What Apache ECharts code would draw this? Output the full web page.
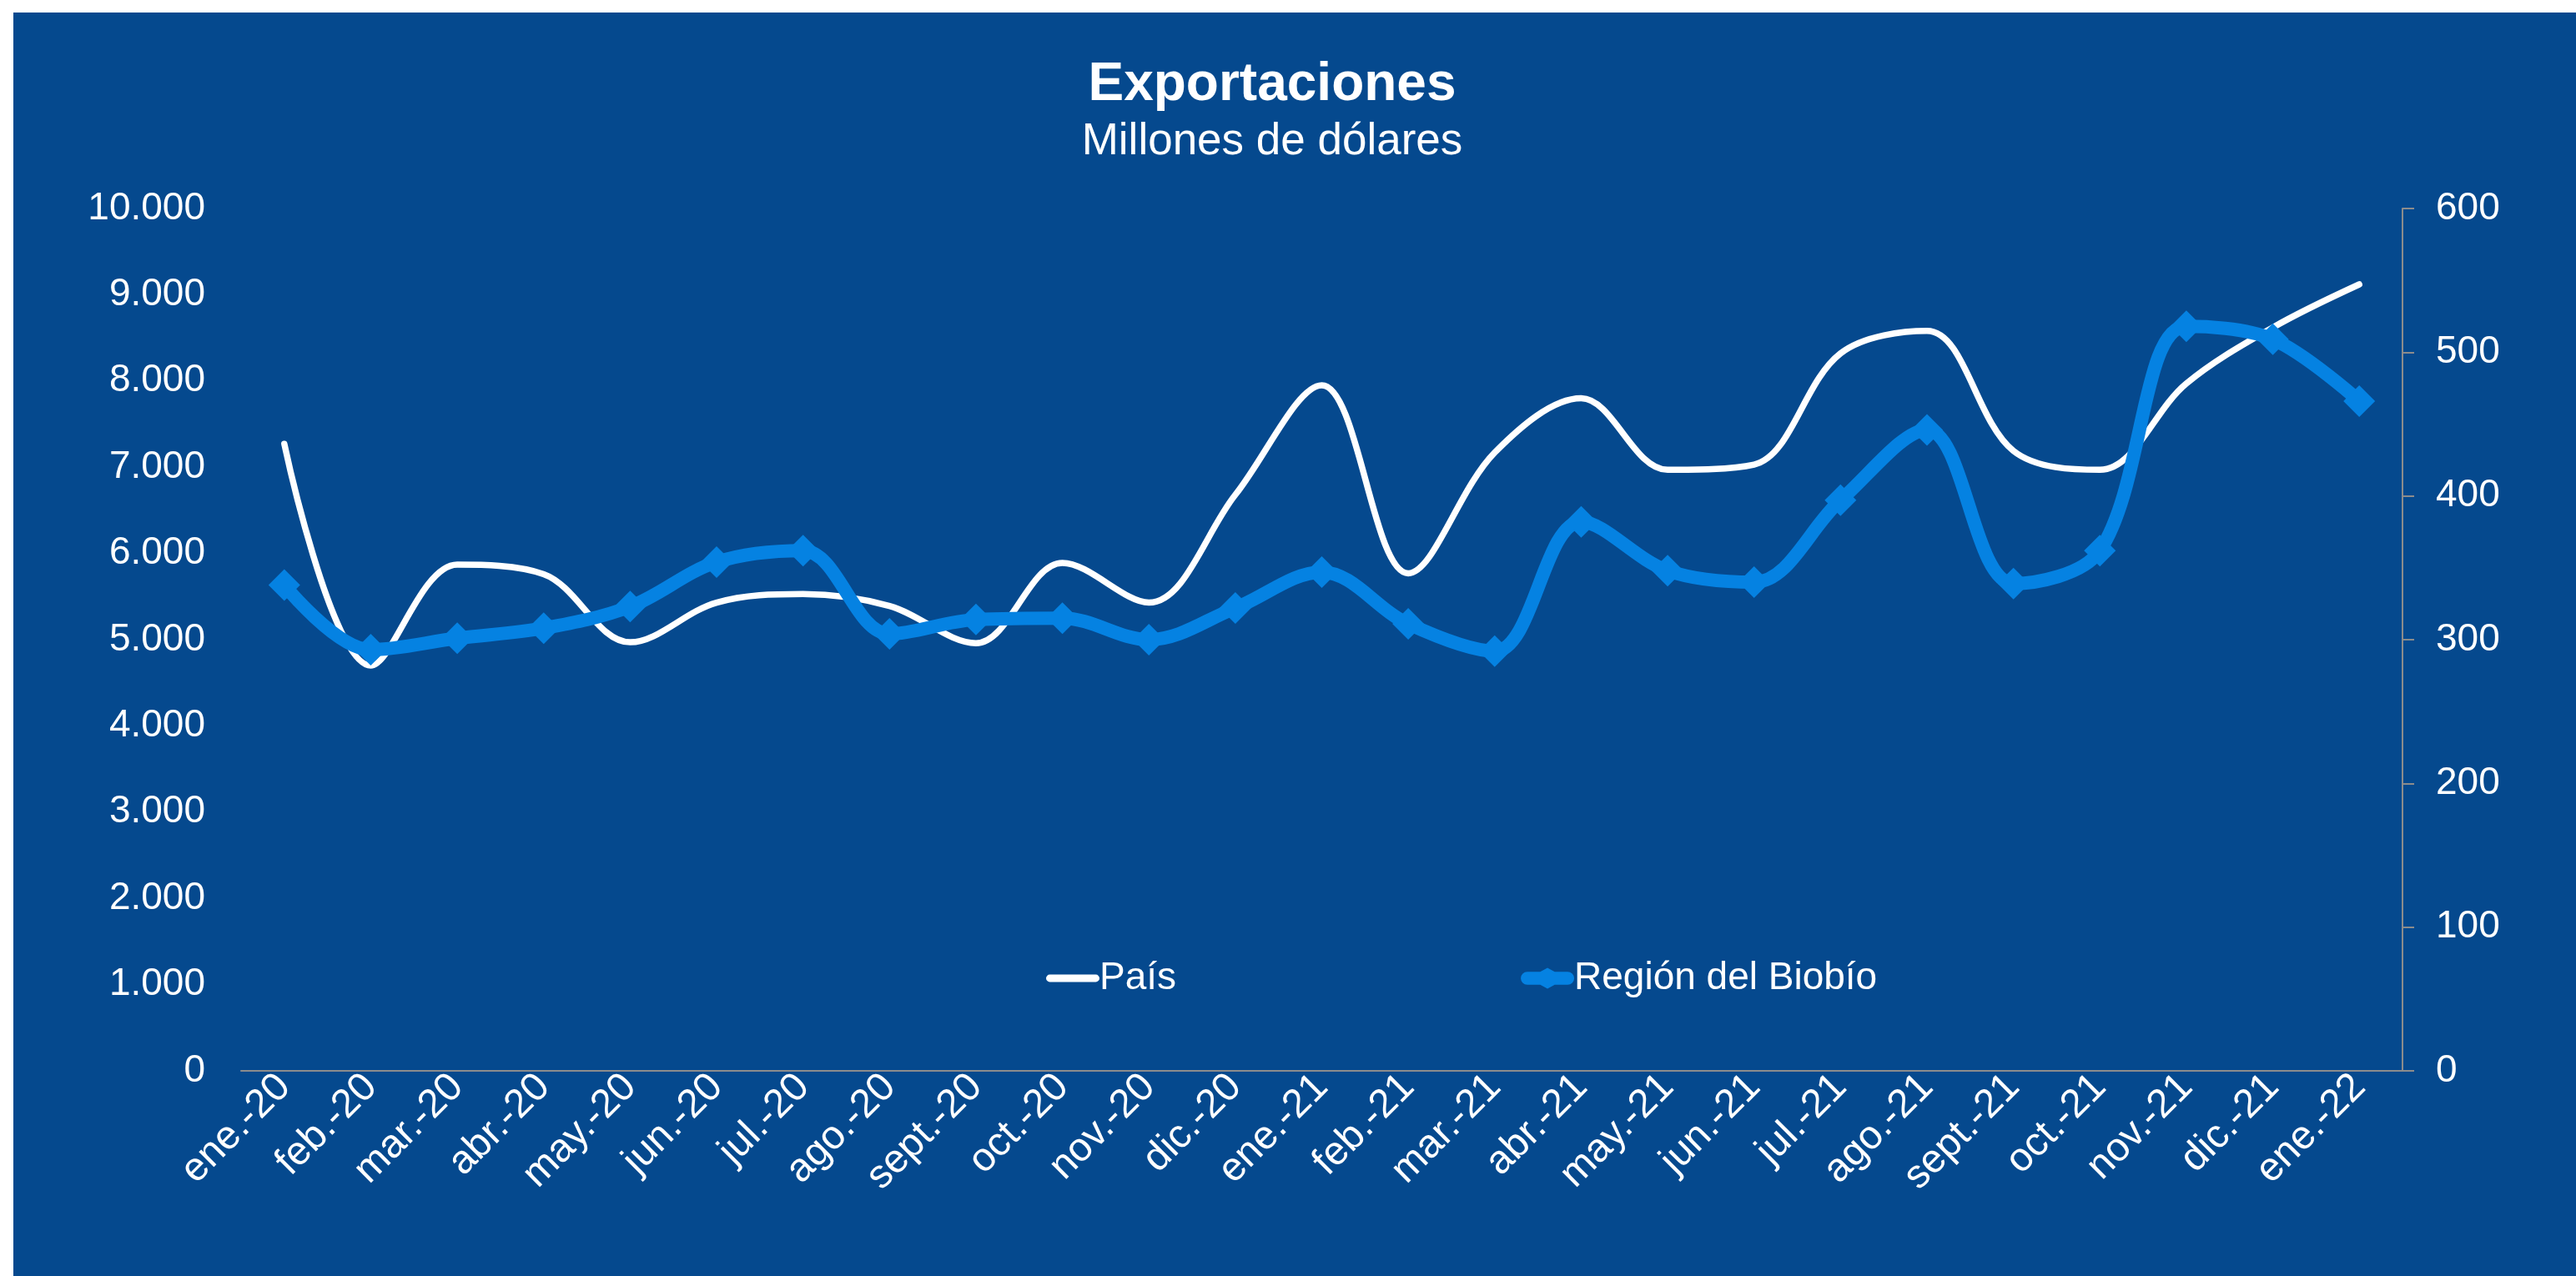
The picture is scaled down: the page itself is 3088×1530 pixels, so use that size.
<!DOCTYPE html>
<html>
<head>
<meta charset="utf-8">
<script src="https://cdn.jsdelivr.net/npm/echarts@6/dist/echarts.min.js"></script>
<style>
    html, body { margin: 0; padding: 0; background: #ffffff; }
    #chartDiv { position: absolute; left: 16px; top: 15px; width: 3072px; height: 1515px; }
</style>
</head>
<body>
<div id="chartDiv"></div>
<script>
// meses
var categories = ['ene.-20', 'feb.-20', 'mar.-20', 'abr.-20', 'may.-20', 'jun.-20', 'jul.-20', 'ago.-20',
    'sept.-20', 'oct.-20', 'nov.-20', 'dic.-20', 'ene.-21', 'feb.-21', 'mar.-21', 'abr.-21', 'may.-21',
    'jun.-21', 'jul.-21', 'ago.-21', 'sept.-21', 'oct.-21', 'nov.-21', 'dic.-21', 'ene.-22'];

// País, eje izquierdo (millones de dólares)
var paisValues = [7270, 4700, 5870, 5760, 4970, 5430, 5530, 5390, 4960, 5890, 5430, 6680, 7950,
    5770, 7170, 7800, 6970, 7030, 8320, 8580, 7190, 6970, 7970, 8620, 9120];

// Región del Biobío, eje derecho
var regionValues = [338, 293, 301, 308, 323, 354, 362, 304, 314, 315, 300, 322, 347,
    311, 292, 382, 348, 340, 397, 446, 339, 362, 518, 509, 466];

var leftTicks = { min: 0, max: 10000, interval: 1000 };
var rightTicks = { min: 0, max: 600, interval: 100 };

var fontName = "'Liberation Sans', Arial, sans-serif";

// iconos de la leyenda (linea blanca, linea azul con rombo)
var iconPais = 'path://M4,0 L54,0 A4,4 0 0 1 54,8 L4,8 A4,4 0 0 1 4,0 Z';
var iconRegion = 'path://M7,5 L23,5 L32,0 L41,5 L57,5 A8,8 0 0 1 57,21 L41,21 L32,26 L23,21 L7,21 A8,8 0 0 1 7,5 Z';

function miles(v) {
    return v.toString().replace(/\B(?=(\d{3})+(?!\d))/g, '.');
}

var myChart = echarts.init(document.getElementById('chartDiv'));

var option = {
    backgroundColor: '#05498e',
    textStyle: { fontFamily: fontName },
    title: [{
        text: 'Exportaciones',
        left: 1504,
        top: 50,
        textAlign: 'center',
        textStyle: { color: '#ffffff', fontSize: 64, fontWeight: 'bold', fontFamily: fontName }
    }, {
        text: 'Millones de dólares',
        left: 1504,
        top: 124,
        textAlign: 'center',
        textStyle: { color: '#ffffff', fontSize: 53, fontWeight: 'normal', fontFamily: fontName }
    }],
    legend: {
        left: 1233,
        top: 1130,
        itemGap: 413,
        itemWidth: 64,
        itemHeight: 26,
        textStyle: { color: '#ffffff', fontSize: 46, fontFamily: fontName, padding: [0, 0, 0, -5] },
        data: [
            { name: 'País', icon: iconPais, itemStyle: { color: '#ffffff', borderWidth: 0 } },
            { name: 'Región del Biobío', icon: iconRegion, itemStyle: { color: '#0582e2', borderWidth: 0 } }
        ]
    },
    grid: {
        left: 273,
        right: 208,
        top: 235,
        bottom: 246
    },
    xAxis: {
        type: 'category',
        data: categories,
        boundaryGap: true,
        axisLine: { show: true, lineStyle: { color: '#8c8c8c', width: 2 } },
        axisTick: { show: false },
        axisLabel: {
            interval: 0,
            rotate: 45,
            margin: 12,
            color: '#ffffff',
            fontSize: 48,
            fontFamily: fontName
        },
        splitLine: { show: false }
    },
    yAxis: [{
        type: 'value',
        position: 'left',
        min: leftTicks.min,
        max: leftTicks.max,
        interval: leftTicks.interval,
        axisLine: { show: false },
        axisTick: { show: false },
        splitLine: { show: false },
        axisLabel: {
            margin: 43,
            color: '#ffffff',
            fontSize: 46,
            fontFamily: fontName,
            formatter: miles
        }
    }, {
        type: 'value',
        position: 'right',
        min: rightTicks.min,
        max: rightTicks.max,
        interval: rightTicks.interval,
        axisLine: { show: true, lineStyle: { color: '#8c8c8c', width: 2 } },
        axisTick: { show: true, inside: false, length: 14, lineStyle: { color: '#8c8c8c', width: 2 } },
        splitLine: { show: false },
        axisLabel: {
            margin: 40,
            color: '#ffffff',
            fontSize: 46,
            fontFamily: fontName
        }
    }],
    series: [{
        name: 'País',
        type: 'line',
        yAxisIndex: 0,
        data: paisValues,
        smooth: 0.35,
        showSymbol: false,
        symbol: 'none',
        lineStyle: { color: '#ffffff', width: 7.5, cap: 'round' },
        itemStyle: { color: '#ffffff' }
    }, {
        name: 'Región del Biobío',
        type: 'line',
        yAxisIndex: 1,
        data: regionValues,
        smooth: 0.35,
        symbol: 'diamond',
        symbolSize: 38,
        lineStyle: { color: '#0582e2', width: 16 },
        itemStyle: { color: '#0582e2' }
    }]
};

myChart.setOption(option);
</script>
</body>
</html>
